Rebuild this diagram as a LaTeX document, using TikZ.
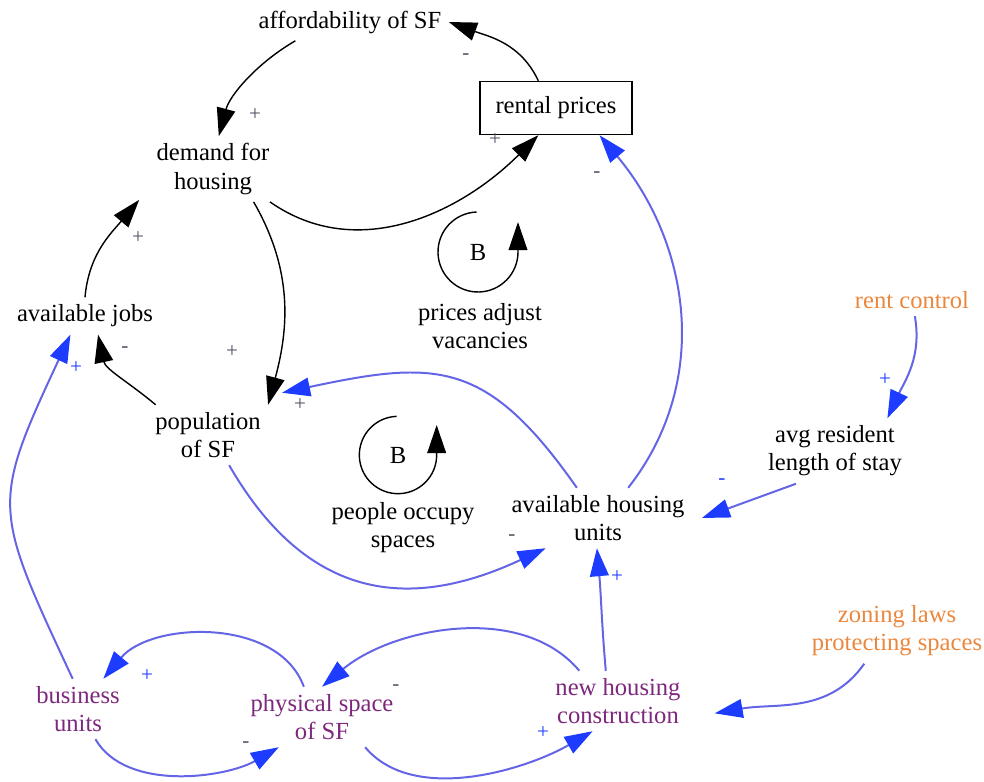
\documentclass[tikz,border=0pt]{standalone}
\usepackage{fontspec}
\setmainfont{Liberation Serif}
\usetikzlibrary{arrows.meta}
\definecolor{linkblue}{RGB}{100,100,230}
\definecolor{tipblue}{RGB}{30,60,255}
\definecolor{varpurple}{RGB}{125,40,125}
\definecolor{extorange}{RGB}{235,135,60}
\definecolor{signgray}{RGB}{80,85,100}

\begin{document}
\begin{tikzpicture}[x=0.15mm,y=0.15mm,
    font=\fontsize{10.5}{12}\selectfont,
    var/.style={align=center,inner sep=3pt},
    link/.style={-{Triangle[length=4.2mm,width=2.8mm]},line width=0.6pt},
    bluelink/.style={-{Triangle[length=4.2mm,width=2.8mm,color=tipblue]},line width=0.85pt,linkblue},
    sign/.style={font=\fontsize{9}{9}\selectfont,signgray},
    bluesign/.style={font=\fontsize{9}{9}\selectfont,tipblue}]
    \useasboundingbox (0,0) rectangle (984,-782);

    % Variables
    \node[var] (aff) at (350,-22) {affordability of SF};
    \node[draw,line width=0.6pt,minimum width=22.8mm,minimum height=7.95mm] (rent) at (556,-108) {rental prices};
    \node[var] (demand) at (213,-169) {demand for\\housing};
    \node[var] (jobs) at (85,-316) {available jobs};
    \node[var] (pop) at (208,-435) {population\\of SF};
    \node[var] (units) at (598,-518) {available housing\\units};
    \node[var] (stay) at (835,-451) {avg resident\\length of stay};
    \node[var,extorange] (rentctl) at (912,-300) {rent control};
    \node[var,extorange] (zoning) at (897,-631) {zoning laws\\protecting spaces};
    \node[var,varpurple] (business) at (78,-709) {business\\units};
    \node[var,varpurple] (space) at (322,-717) {physical space\\of SF};
    \node[var,varpurple] (newh) at (618,-701) {new housing\\construction};

    % Balancing loops
    \node (loopA) at (478,-252) {B};
    \node[var] (loopAlbl) at (480,-326) {prices adjust\\vacancies};
    \draw[link] ([shift={(92:6mm)}]loopA.center) arc[start angle=92,end angle=360,radius=6mm] -- ++(0,30);
    \node (loopB) at (398,-455) {B};
    \node[var] (loopBlbl) at (403,-528) {people occupy\\spaces};
    \draw[link] ([shift={(92:5.8mm)}]loopB.center) arc[start angle=92,end angle=360,radius=5.8mm] -- ++(0,30);

    % Black links
    \draw[link] (rent.123) to[out=115,in=-20] (aff.east);
    \draw[link] (aff.199) to[out=-150,in=75,looseness=0.9] (demand.80);
    \draw[link] (demand.-30) to[out=-35,in=-135] (rent.-123);
    \draw[link] (demand.-39) to[out=-60,in=75] (pop.north east);
    \draw[link] (jobs.north) to[out=85,in=-130] ([shift={(-10,2)}]demand.south west);
    \draw[link] (pop.150) to[out=140,in=-78] (jobs.-55);

    % Blue links
    \draw[bluelink] (units.45) to[out=52,in=-50] (rent.-32);
    \draw[bluelink] (units.125) to[out=125,in=12,looseness=1.3] ([shift={(14,12)}]pop.north east);
    \draw[bluelink] (pop.-55) to[out=-60,in=-155,looseness=1.2] (units.-150);
    \draw[bluelink] (stay.-140) to[out=-160,in=20] ([xshift=1.5mm]units.east);
    \draw[bluelink] (rentctl.-80) to[out=-80,in=65] (stay.32);
    \draw[bluelink] (newh.112) to[out=95,in=-85] (units.-92);
    \draw[bluelink] (zoning.-135) to[out=-125,in=10] ([xshift=4mm]newh.-10);
    \draw[bluelink] (newh.142) to[out=130,in=40,looseness=0.9] (space.north);
    \draw[bluelink] (space.121) to[out=110,in=50,looseness=0.95] (business.50);
    \draw[bluelink] (business.-60) to[out=-60,in=-150,looseness=0.85] (space.-145);
    \draw[bluelink] (space.-35) to[out=-50,in=-150,looseness=0.85] (newh.-130);
    \draw[bluelink] (business.100) to[out=115,in=-115,looseness=1.4] (jobs.-128);

    % Polarities
    \node[sign] (s1) at (466,-57) {-};
    \node[sign] (s2) at (255,-115) {+};
    \node[sign] (s3) at (495,-140) {+};
    \node[sign] (s4) at (597,-175) {-};
    \node[sign] (s5) at (138,-238) {+};
    \node[sign] (s6) at (232,-352) {+};
    \node[sign] (s7) at (125,-350) {-};
    \node[bluesign] (s8) at (76,-368) {+};
    \node[sign] (s9) at (300,-405) {+};
    \node[sign] (s10) at (512,-538) {-};
    \node[bluesign] (s11) at (722,-482) {-};
    \node[bluesign] (s12) at (885,-380) {+};
    \node[bluesign] (s13) at (617,-577) {+};
    \node[sign] (s14) at (396,-688) {-};
    \node[bluesign] (s15) at (147,-676) {+};
    \node[sign] (s16) at (246,-745) {-};
    \node[bluesign] (s17) at (543,-733) {+};
\end{tikzpicture}
\end{document}
